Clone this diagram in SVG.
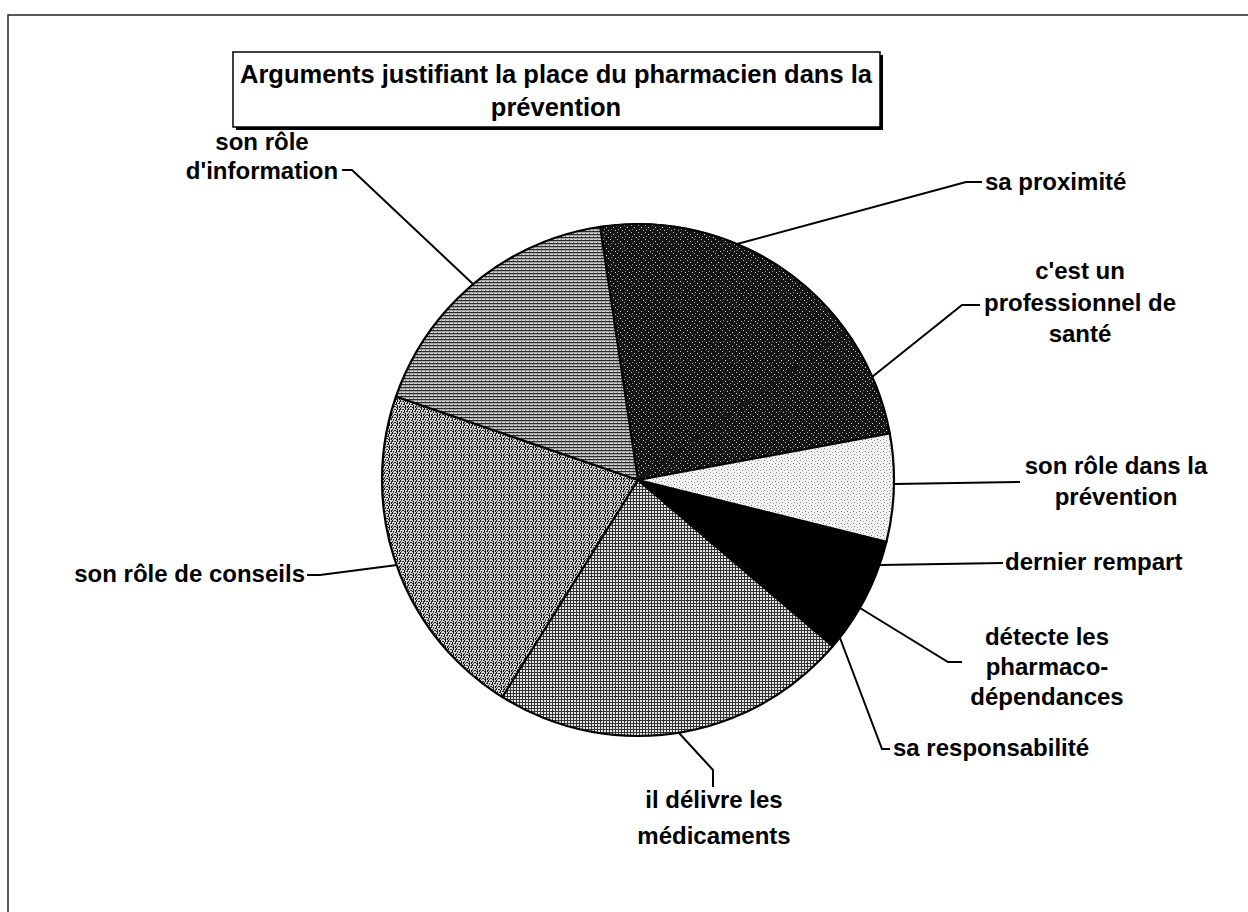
<svg xmlns="http://www.w3.org/2000/svg" width="1248" height="912" viewBox="0 0 1248 912">
<style>
.lbl{font-family:"Liberation Sans",Arial,sans-serif;font-weight:bold;font-size:24px;fill:#000}
.ttl{font-family:"Liberation Sans",Arial,sans-serif;font-weight:bold;font-size:25.5px;fill:#000}
.mid{text-anchor:middle}
.end{text-anchor:end}
.lead{fill:none;stroke:#000;stroke-width:2}
.slice{stroke:none}
.blk{fill:#000;stroke:#000;stroke-width:1.2;stroke-linejoin:round}
.drk{stroke:#141414;stroke-width:1.2;stroke-linejoin:round}
.edge{fill:none;stroke:#000;stroke-width:2.2;stroke-linecap:round}
</style>
<defs>
<pattern id="pInfo" width="4" height="3" patternUnits="userSpaceOnUse">
<rect width="4" height="3" fill="#d8d8d8"/>
<rect y="0" width="4" height="1.3" fill="#2a2a2a"/>
<rect x="1" y="2" width="1" height="1" fill="#777"/>
</pattern>
<pattern id="pDark" width="7" height="7" patternUnits="userSpaceOnUse">
<rect width="7" height="7" fill="#141414"/>
<rect x="1" y="1" width="1" height="1" fill="#bbb"/>
<rect x="4" y="3" width="1" height="1" fill="#ddd"/>
<rect x="2" y="5" width="1" height="1" fill="#999"/>
<rect x="6" y="6" width="1" height="1" fill="#ccc"/>
</pattern>
<pattern id="pLight" width="6" height="6" patternUnits="userSpaceOnUse">
<rect width="6" height="6" fill="#f2f2f2"/>
<rect x="1" y="1" width="1" height="1" fill="#777"/>
<rect x="4" y="2" width="1" height="1" fill="#999"/>
<rect x="2" y="4" width="1" height="1" fill="#888"/>
<rect x="5" y="5" width="1" height="1" fill="#aaa"/>
</pattern>
<pattern id="pGrid" width="3" height="3" patternUnits="userSpaceOnUse">
<rect width="3" height="3" fill="#e6e6e6"/>
<rect width="1" height="3" fill="#333"/>
<rect width="3" height="1" fill="#333"/>
</pattern>
<pattern id="pSpeck" width="8" height="8" patternUnits="userSpaceOnUse">
<rect width="8" height="8" fill="#d4d4d4"/>
<rect x="0" y="0" width="1" height="2" fill="#111"/>
<rect x="2" y="1" width="2" height="1" fill="#222"/>
<rect x="5" y="0" width="1" height="2" fill="#111"/>
<rect x="7" y="1" width="1" height="2" fill="#333"/>
<rect x="4" y="2" width="1" height="2" fill="#111"/>
<rect x="1" y="3" width="1" height="2" fill="#333"/>
<rect x="6" y="3" width="2" height="1" fill="#222"/>
<rect x="3" y="4" width="2" height="1" fill="#222"/>
<rect x="5" y="5" width="1" height="2" fill="#111"/>
<rect x="0" y="5" width="1" height="2" fill="#444"/>
<rect x="2" y="6" width="2" height="1" fill="#222"/>
<rect x="7" y="6" width="1" height="2" fill="#111"/>
<rect x="1" y="7" width="1" height="1" fill="#333"/>
<rect x="4" y="7" width="2" height="1" fill="#222"/>
</pattern>
</defs>
<rect width="1248" height="912" fill="#fff"/>
<path d="M8,912 V15 H1248" fill="none" stroke="#222" stroke-width="1.5"/>

<g id="title">
<rect x="236" y="55" width="647" height="75" fill="#000"/>
<rect x="233" y="52" width="647" height="75" fill="#fff" stroke="#000" stroke-width="1.5"/>
<text class="ttl mid" x="556" y="83">Arguments justifiant la place du pharmacien dans la</text>
<text class="ttl mid" x="556" y="116">prévention</text>
</g>

<g id="pie">
<path id="s-info" class="slice" fill="url(#pInfo)" d="M638,480 L395.9,396.6 A256,256 0 0 1 600.2,226.8 Z"/>
<path id="s-proximite" class="drk" fill="url(#pDark)" d="M638,480 L600.2,226.8 A256,256 0 0 1 846.4,331.3 Z"/>
<path id="s-professionnel" class="drk" fill="url(#pDark)" d="M638,480 L846.4,331.3 A256,256 0 0 1 889.7,433.4 Z"/>
<path id="s-prevention" class="slice" fill="url(#pLight)" d="M638,480 L889.7,433.4 A256,256 0 0 1 886.4,541.9 Z"/>
<path id="s-rempart" class="blk" d="M638,480 L886.4,541.9 A256,256 0 0 1 871.0,586.2 Z"/>
<path id="s-detecte" class="blk" d="M638,480 L871.0,586.2 A256,256 0 0 1 846.4,628.7 Z"/>
<path id="s-responsabilite" class="blk" d="M638,480 L846.4,628.7 A256,256 0 0 1 832.7,646.2 Z"/>
<path id="s-medicaments" class="slice" fill="url(#pGrid)" d="M638,480 L832.7,646.2 A256,256 0 0 1 502.3,697.1 Z"/>
<path id="s-conseils" class="slice" fill="url(#pSpeck)" d="M638,480 L502.3,697.1 A256,256 0 0 1 395.9,396.6 Z"/>
<path class="edge" d="M395.9,396.6 L638,480 L600.2,226.8 M889.7,433.4 L638,480 L886.4,541.9 M832.7,646.2 L638,480 L502.3,697.1"/>
<circle class="edge" cx="638" cy="480" r="256"/>
</g>

<g id="connectors">
<polyline class="lead" points="473,284 352,170 342,170"/>
<polyline class="lead" points="737,244 966,182 982,182"/>
<polyline class="lead" points="872,377 962,305 980,305"/>
<polyline class="lead" points="894,484 1020,482"/>
<polyline class="lead" points="880,565 1003,563"/>
<polyline class="lead" points="860,608 948,662 962,662"/>
<polyline class="lead" points="840,638 882,749 890,749"/>
<polyline class="lead" points="679,733 713,770 713,787"/>
<polyline class="lead" points="397,565 320,575 307,575"/>
</g>

<g id="label-information">
<text class="lbl mid" x="262" y="150">son rôle</text>
<text class="lbl mid" x="262" y="179">d'information</text>
</g>
<g id="label-proximite">
<text class="lbl" x="985" y="190">sa proximité</text>
</g>
<g id="label-professionnel">
<text class="lbl mid" x="1080" y="279">c'est un</text>
<text class="lbl mid" x="1080" y="311">professionnel de</text>
<text class="lbl mid" x="1080" y="342">santé</text>
</g>
<g id="label-prevention">
<text class="lbl mid" x="1116" y="474">son rôle dans la</text>
<text class="lbl mid" x="1116" y="505">prévention</text>
</g>
<g id="label-rempart">
<text class="lbl" x="1005" y="570">dernier rempart</text>
</g>
<g id="label-detecte">
<text class="lbl mid" x="1047" y="645">détecte les</text>
<text class="lbl mid" x="1047" y="675">pharmaco-</text>
<text class="lbl mid" x="1047" y="705">dépendances</text>
</g>
<g id="label-responsabilite">
<text class="lbl" x="893" y="756">sa responsabilité</text>
</g>
<g id="label-medicaments">
<text class="lbl mid" x="714" y="808">il délivre les</text>
<text class="lbl mid" x="714" y="844">médicaments</text>
</g>
<g id="label-conseils">
<text class="lbl end" x="305" y="582">son rôle de conseils</text>
</g>
</svg>
